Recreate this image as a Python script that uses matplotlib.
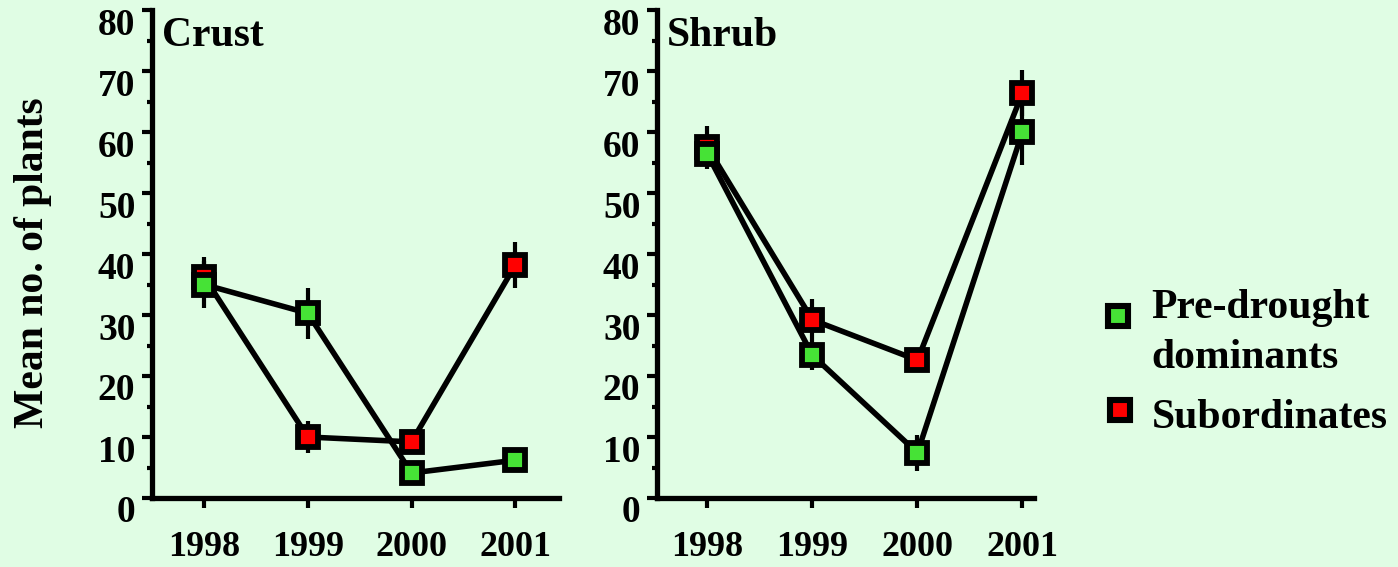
import matplotlib
matplotlib.use('Agg')
import matplotlib.pyplot as plt
import matplotlib.transforms as mtransforms
from matplotlib.lines import Line2D

years = [1998, 1999, 2000, 2001]

# Crust plots
crust_dom = [35.0, 30.3, 4.1, 6.2]
crust_dom_err = [3.8, 4.2, 1.0, 1.0]
crust_sub = [36.3, 10.0, 9.2, 38.2]
crust_sub_err = [3.2, 2.6, 1.5, 3.8]

# Shrub plots
shrub_dom = [56.4, 23.4, 7.4, 60.0]
shrub_dom_err = [2.0, 2.4, 3.0, 5.4]
shrub_sub = [57.5, 29.2, 22.6, 66.4]
shrub_sub_err = [3.5, 3.4, 1.5, 3.8]

bg = '#e0fde4'
green = '#46e236'
red = '#ff0000'

plt.rcParams['font.family'] = ['Liberation Serif', 'DejaVu Serif']
plt.rcParams['font.weight'] = 'bold'

fig = plt.figure(figsize=(13.98, 5.67), dpi=100, facecolor=bg)

ax1 = fig.add_axes([152/1398, 69/567, 407/1398, 488/567])
ax2 = fig.add_axes([657/1398, 69/567, 377/1398, 488/567])


def draw_panel(ax, dom, dom_err, sub, sub_err, title, xlim):
    ax.set_facecolor(bg)
    for vals, errs, col in [(sub, sub_err, red), (dom, dom_err, green)]:
        ax.errorbar(years, vals, yerr=errs, fmt='-s', color='black',
                    lw=4.0, elinewidth=3.0, capsize=0,
                    ms=15, mew=4.2, mfc=col, mec='black', clip_on=False)
    ax.set_xlim(*xlim)
    ax.set_ylim(0, 80)
    ax.set_xticks(years)
    ax.set_xticklabels([str(y) for y in years])
    ax.set_yticks(range(0, 81, 10))
    ax.set_yticks(range(5, 80, 10), minor=True)
    for s in ['top', 'right']:
        ax.spines[s].set_visible(False)
    for s in ['left', 'bottom']:
        ax.spines[s].set_linewidth(3.8)
    ax.tick_params(axis='y', which='major', length=7, width=3, pad=5, labelsize=27)
    ax.tick_params(axis='y', which='minor', length=3.5, width=3)
    ax.tick_params(axis='x', which='major', length=7, width=3, pad=17, labelsize=26)
    # shift y labels down a bit below their ticks
    offset = mtransforms.ScaledTranslation(0, -0.11, fig.dpi_scale_trans)
    for t in ax.yaxis.get_major_ticks():
        t.label1.set_transform(t.label1.get_transform() + offset)
    ax.text(0.025, 0.985, title, transform=ax.transAxes, fontsize=30,
            fontweight='bold', va='top', ha='left')


draw_panel(ax1, crust_dom, crust_dom_err, crust_sub, crust_sub_err, 'Crust', (1997.5, 2001.42))
draw_panel(ax2, shrub_dom, shrub_dom_err, shrub_sub, shrub_sub_err, 'Shrub', (1997.52, 2001.11))

fig.text(33/1398, 1 - 263/567, 'Mean no. of plants', rotation=90, fontsize=30,
         fontweight='bold', ha='center', va='center')

# legend
for (mx, my), col in [((1118, 316), green), ((1120, 410), red)]:
    fig.add_artist(Line2D([mx/1398], [1 - my/567], transform=fig.transFigure,
                          marker='s', ms=14, mew=4.4, mfc=col, mec='black', ls='none'))
fig.text(1151/1398, 1 - 318/567, 'Pre-drought', fontsize=30, fontweight='bold', va='baseline')
fig.text(1151/1398, 1 - 368/567, 'dominants', fontsize=30, fontweight='bold', va='baseline')
fig.text(1152/1398, 1 - 428/567, 'Subordinates', fontsize=30, fontweight='bold', va='baseline')

fig.savefig('out.png', dpi=100, facecolor=bg)
